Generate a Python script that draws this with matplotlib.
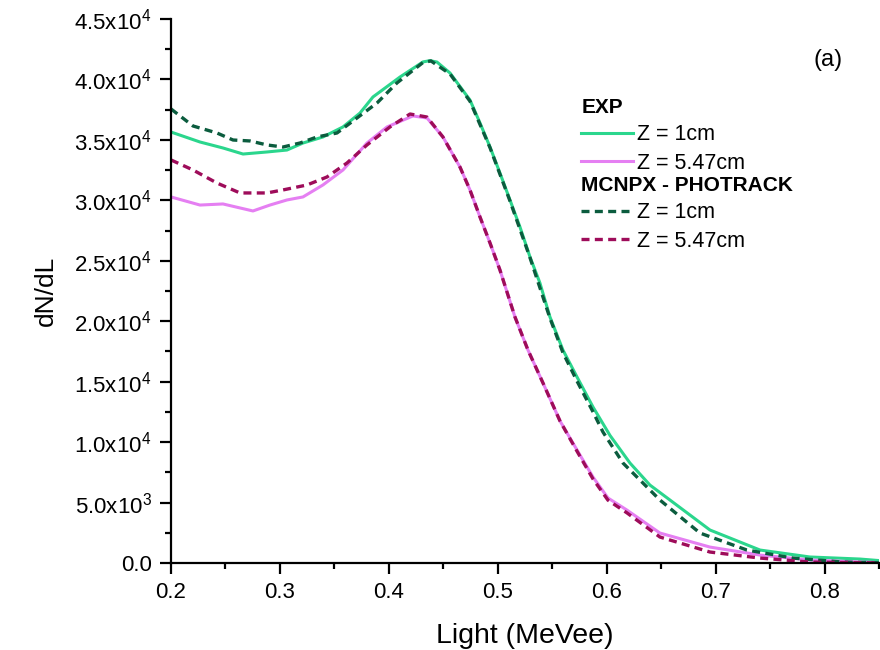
import numpy as np
import matplotlib
matplotlib.use("Agg")
import matplotlib.pyplot as plt
from matplotlib.ticker import MultipleLocator, FuncFormatter

plt.rcParams["font.family"] = ["Liberation Sans", "DejaVu Sans"]
plt.rcParams["mathtext.default"] = "regular"

# EXP, Z = 1cm
exp1_x = [0.200, 0.2266, 0.2477, 0.2661, 0.2881, 0.3064, 0.3211, 0.3394, 0.3578, 0.3734,
          0.3853, 0.4101, 0.4312, 0.4376, 0.4440, 0.4560, 0.4743, 0.4835, 0.4927, 0.5018,
          0.5110, 0.5202, 0.5294, 0.5385, 0.5477, 0.5596, 0.5725, 0.5872, 0.6028, 0.6211,
          0.6394, 0.6578, 0.6945, 0.7404, 0.7862, 0.8321, 0.850]
exp1_y = [35650, 34825, 34330, 33830, 34000, 34160, 34740, 35240, 36070, 37220,
          38550, 40200, 41450, 41550, 41440, 40530, 38300, 36400, 34410, 32260,
          30030, 27790, 25310, 23160, 20350, 17620, 15390, 12900, 10550, 8270,
          6450, 5210, 2730, 1075, 500, 330, 200]

# EXP, Z = 5.47cm
exp5_x = [0.200, 0.2266, 0.2477, 0.2633, 0.2752, 0.2908, 0.3064, 0.3211, 0.3394, 0.3578,
          0.3798, 0.3982, 0.4220, 0.4349, 0.4495, 0.4651, 0.4743, 0.4835, 0.4927, 0.5018,
          0.5156, 0.5275, 0.5413, 0.5569, 0.5725, 0.5872, 0.6009, 0.6183, 0.6486, 0.6945,
          0.7404, 0.7862, 0.8321, 0.850]
exp5_y = [30280, 29610, 29700, 29370, 29120, 29610, 30030, 30280, 31270, 32510,
          34740, 36070, 36980, 36810, 35240, 32760, 30860, 28620, 26470, 24240,
          20350, 17620, 14890, 11750, 9350, 7110, 5380, 4380, 2480, 1320,
          660, 250, 80, 40]

# MCNPX - PHOTRACK, Z = 1cm
mc1_x = [0.200, 0.2202, 0.2422, 0.2569, 0.2725, 0.2881, 0.3028, 0.3183, 0.3339, 0.3523,
         0.3706, 0.3890, 0.4073, 0.4312, 0.4385, 0.4560, 0.4743, 0.4927, 0.5110, 0.5294,
         0.5477, 0.5596, 0.5725, 0.5872, 0.5963, 0.6147, 0.6486, 0.6853, 0.7284, 0.7706,
         0.8165, 0.850]
mc1_y = [37560, 36150, 35570, 34990, 34910, 34580, 34410, 34740, 35240, 35570,
         36810, 38050, 39710, 41400, 41530, 40450, 38200, 34350, 29950, 25250,
         20250, 17400, 15050, 12500, 10840, 8270, 5210, 2480, 1075, 410,
         80, 20]

# MCNPX - PHOTRACK, Z = 5.47cm
mc5_x = [0.200, 0.2202, 0.2422, 0.2633, 0.2881, 0.3028, 0.3248, 0.3431, 0.3615, 0.3798,
         0.4009, 0.4193, 0.4349, 0.4495, 0.4651, 0.4743, 0.4835, 0.4927, 0.5018, 0.5156,
         0.5275, 0.5413, 0.5569, 0.5725, 0.5872, 0.6009, 0.6183, 0.6486, 0.6945, 0.7404,
         0.7862, 0.850]
mc5_y = [33340, 32510, 31430, 30610, 30610, 30860, 31270, 31930, 33090, 34580,
         36070, 37140, 36890, 35240, 32760, 30860, 28620, 26470, 24240, 20350,
         17620, 14890, 11750, 9250, 6950, 5200, 4150, 2150, 910, 410,
         80, 10]

fig = plt.figure(figsize=(8.8, 6.5), dpi=100)
ax = fig.add_axes([0.1943, 0.1338, 0.8051, 0.837])

l1, = ax.plot(exp1_x, exp1_y, color="#2bd68d", lw=2.2, label="Z = 1cm")
l2, = ax.plot(exp5_x, exp5_y, color="#e57ff2", lw=2.2, label="Z = 5.47cm")
l3, = ax.plot(mc1_x, mc1_y, color="#0b5c3e", lw=2.4, ls=(0, (2.4, 1.6)), label="Z = 1cm")
l4, = ax.plot(mc5_x, mc5_y, color="#9e0c5a", lw=2.4, ls=(0, (2.4, 1.6)), label="Z = 5.47cm")

ax.set_xlim(0.2, 0.85)
ax.set_ylim(0, 45000)
ax.xaxis.set_major_locator(MultipleLocator(0.1))
ax.xaxis.set_minor_locator(MultipleLocator(0.05))
ax.yaxis.set_major_locator(MultipleLocator(5000))
ax.yaxis.set_minor_locator(MultipleLocator(2500))


def sci(v, pos):
    if v <= 0:
        return "0.0"
    e = int(np.floor(np.log10(v)))
    return f"{v / 10**e:.1f}x10$^{{{e}}}$"


ax.yaxis.set_major_formatter(FuncFormatter(sci))
ax.xaxis.set_major_formatter(FuncFormatter(lambda v, p: f"{v:.1f}"))

for s in ["top", "right"]:
    ax.spines[s].set_visible(False)
for s in ["left", "bottom"]:
    ax.spines[s].set_linewidth(1.6)
ax.tick_params(which="major", length=8, width=1.6, labelsize=16, pad=6)
ax.tick_params(which="minor", length=4.5, width=1.6)

ax.set_xlabel("Light (MeVee)", fontsize=20.5, labelpad=14)
ax.set_ylabel("dN/dL", fontsize=19, labelpad=12)

ax.text(0.927, 0.925, "(a)", transform=ax.transAxes, fontsize=17, ha="center", va="center")

leg1 = ax.legend(handles=[l1, l2], title="EXP", loc="upper left",
                 bbox_to_anchor=(0.579, 0.855), frameon=False, fontsize=15.5,
                 handlelength=2.4, handletextpad=0.2, labelspacing=0.35,
                 borderpad=0, borderaxespad=0, alignment="left",
                 title_fontproperties={"weight": "bold", "size": 15})
ax.add_artist(leg1)
ax.legend(handles=[l3, l4], title="MCNPX - PHOTRACK", loc="upper left",
          bbox_to_anchor=(0.579, 0.712), frameon=False, fontsize=15.5,
          handlelength=2.4, handletextpad=0.2, labelspacing=0.35,
          borderpad=0, borderaxespad=0, alignment="left",
          title_fontproperties={"weight": "bold", "size": 15})

fig.savefig("out.png", dpi=100)
